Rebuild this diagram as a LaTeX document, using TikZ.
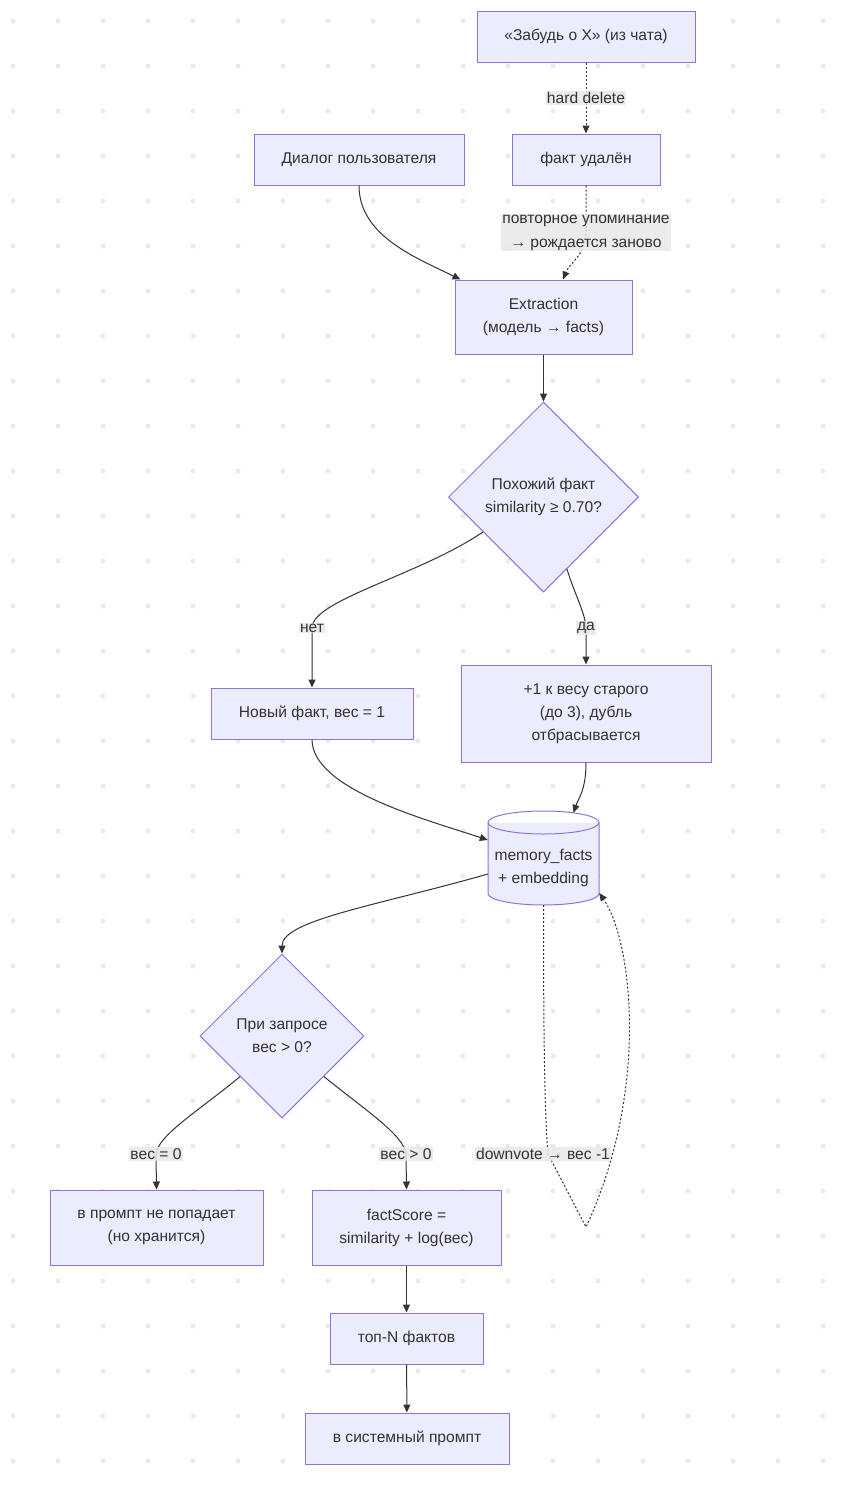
\documentclass[tikz,border=0pt]{standalone}
\usepackage{fontspec}
\setmainfont{Liberation Sans}
\usetikzlibrary{arrows.meta,calc,shapes.geometric}
\definecolor{nodefill}{HTML}{ECECFF}
\definecolor{nodeline}{HTML}{9370DB}
\definecolor{edgecol}{HTML}{333333}
\definecolor{lblfill}{HTML}{E8E8E8}
\definecolor{dotcol}{HTML}{EAEAEA}
\begin{document}
\begin{tikzpicture}[x=1pt,y=-1pt,>={Triangle[length=8pt,width=7pt]},
  font=\fontsize{15.6}{23}\selectfont, text=edgecol,
  box/.style={draw=nodeline, fill=nodefill, line width=1pt, align=center, inner sep=0pt},
  dec/.style={diamond, aspect=1, draw=nodeline, fill=nodefill, line width=1pt, align=center, inner sep=0pt},
  edge/.style={draw=edgecol, line width=1pt, ->},
  dots/.style={edge, dash pattern=on 2pt off 2pt},
  lbl/.style={fill=lblfill, fill opacity=0.85, text opacity=1, inner xsep=1pt, inner ysep=1pt, align=center, font=\fontsize{15.6}{24}\selectfont}]
  \useasboundingbox (0,0) rectangle (856,1491);
  \fill[white] (0,0) rectangle (856,1491);
  \foreach \i in {0,...,18}
    \foreach \j in {0,...,32}
      \fill[dotcol] (13+45*\i,21+45*\j) circle[radius=2.5pt];

  \node[box, minimum width=218pt, minimum height=51pt] (forget) at (586,36.5) {«Забудь о X» (из чата)};
  \node[box, minimum width=210pt, minimum height=51pt] (dialog) at (359,159.5) {Диалог пользователя};
  \node[box, minimum width=148pt, minimum height=51pt] (deleted) at (586,159.5) {факт удалён};
  \node[box, minimum width=177pt, minimum height=74pt] (extr) at (543.5,317) {Extraction\\(модель → facts)};
  \node[dec, minimum size=190pt] (sim) at (543.5,497) {Похожий факт\\similarity ≥ 0.70?};
  \node[box, minimum width=202pt, minimum height=51pt] (new) at (312,713.5) {Новый факт, вес = 1};
  \node[box, minimum width=250pt, minimum height=97pt] (plus) at (586,713.5) {+1 к весу старого\\(до 3), дубль\\отбрасывается};

  % cylinder
  \fill[nodefill] (488,822.5) rectangle (599,893.5);
  \fill[nodefill] (543.5,893.5) ellipse[x radius=55.5, y radius=11.5];
  \draw[nodeline, line width=1pt] (488,822.5) -- (488,893.5) arc[start angle=180, end angle=0, x radius=55.5, y radius=11.5] -- (599,822.5);
  \draw[nodeline, line width=1pt] (543.5,822.5) ellipse[x radius=55.5, y radius=11.5];
  \node[minimum width=111pt, minimum height=94pt, inner sep=0pt] (db) at (543.5,858) {};
  \node[align=center] (dbtext) at (543.5,868) {memory\_facts\\+ embedding};

  \node[dec, minimum size=164pt] (query) at (282,1036) {При запросе\\вес > 0?};
  \node[box, minimum width=213pt, minimum height=75pt] (skip) at (156.5,1227.5) {в промпт не попадает\\(но хранится)};
  \node[box, minimum width=189pt, minimum height=75pt] (score) at (406.5,1227.5) {factScore =\\similarity + log(вес)};
  \node[box, minimum width=153pt, minimum height=51pt] (top) at (406.5,1338.5) {топ-N фактов};
  \node[box, minimum width=204pt, minimum height=51pt] (sys) at (407,1438.5) {в системный промпт};
  \coordinate (loopTip) at (586,1227);

  \draw[dots] (forget) -- node[lbl]{hard delete} (deleted);
  \draw[dots] (deleted) -- (586,232.5) node[lbl]{повторное упоминание\\→ рождается заново}
    .. controls (586,255) and (570,262) .. ([xshift=19.5pt]extr.north);
  \draw[edge] (dialog.south) .. controls +(0,50) and +(-45,-22) .. ([xshift=6pt]extr.north west);
  \draw[edge] (extr) -- (sim);
  \draw[edge] (sim.210) .. controls (420,575) and (312,600) .. (312,628) node[lbl]{нет} -- (new);
  \draw[edge] (sim.288) .. controls (576,598) and (585,612) .. (586,628) node[lbl]{да} -- (plus);
  \draw[edge] (new.south) .. controls +(0,50) and +(-60,-20) .. ([yshift=18pt]db.west);
  \draw[edge] (plus.south) .. controls +(0,28) and +(5,-15) .. ([xshift=30pt,yshift=-2pt]db.north);
  \draw[edge] ([yshift=-16pt]db.west) .. controls (380,905) and (282,920) .. (query.north);
  \draw[edge] (query.224) .. controls (200,1110) and (158,1135) .. (156,1154) node[lbl]{вес = 0} -- (skip.north);
  \draw[edge] (query.316) .. controls (365,1110) and (404,1135) .. (406,1154) node[lbl]{вес > 0} -- (score.north);
  \draw[edge] (score) -- (top);
  \draw[edge] (top) -- (sys);
  \draw[dots] (db.south) .. controls (543.5,1000) and (544,1110) .. (548,1154) node[lbl, xshift=-5pt]{downvote → вес -1}
    -- (loopTip) .. controls (650,1090) and (632,940) .. ([yshift=-35pt]db.east);
\end{tikzpicture}
\end{document}
